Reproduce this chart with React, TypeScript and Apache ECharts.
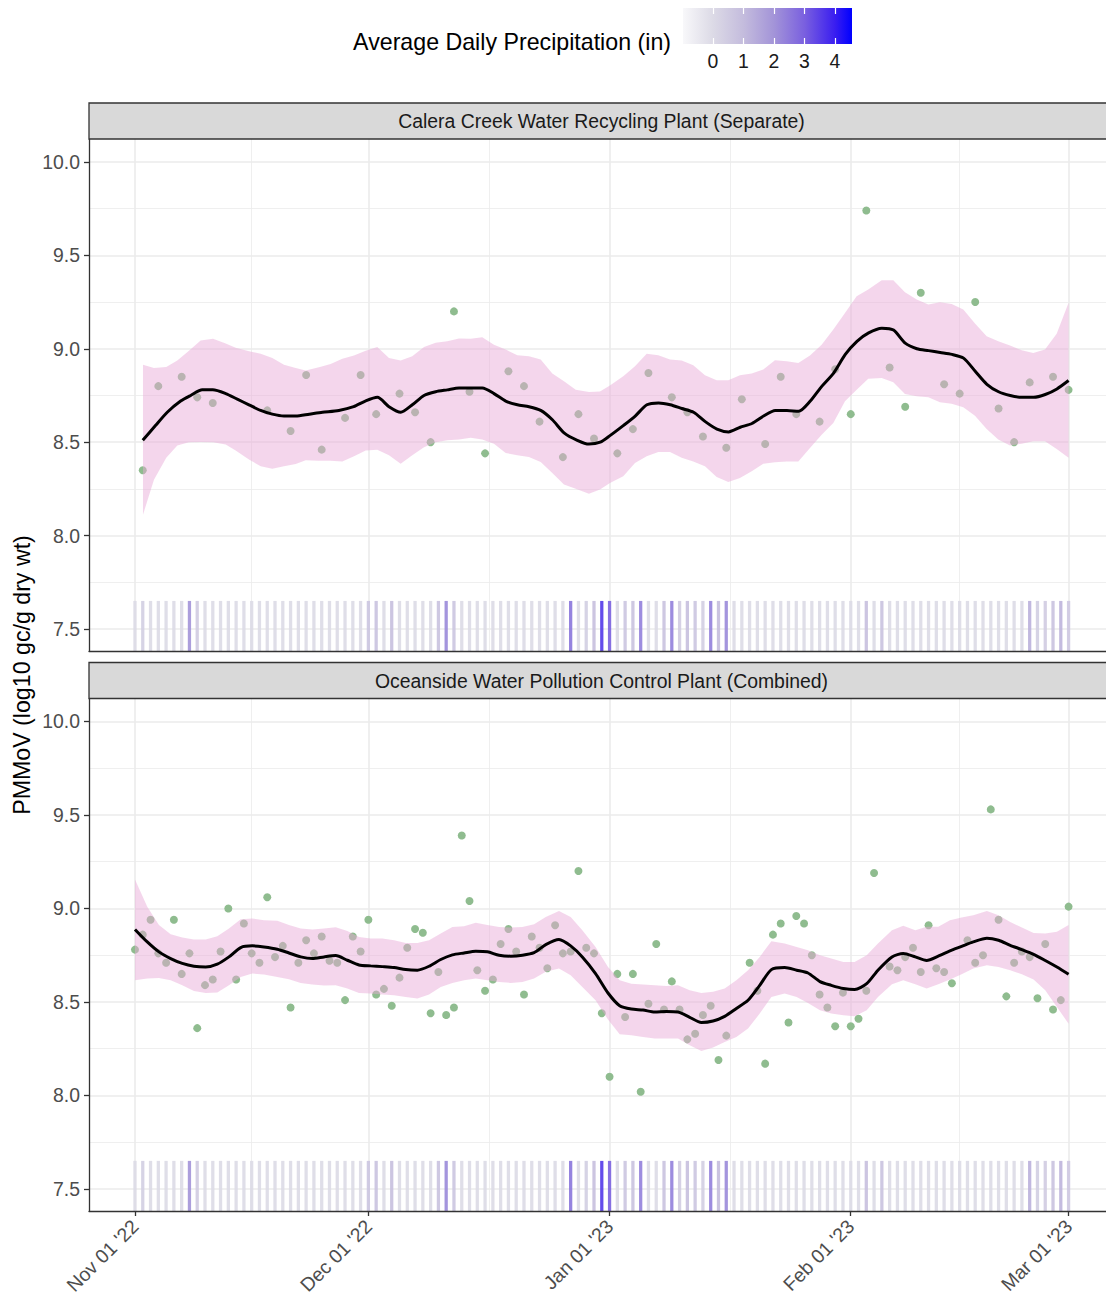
import React, { useEffect, useRef } from "react";
import * as echarts from "echarts";

// ---------------- DATA ----------------
// x values are days since Nov 01 2022
const START_DATE_UTC = Date.UTC(2022, 10, 1);
const X_TICK_DAYS = [0, 30, 61, 92, 120];
const X_MINOR_DAYS = [15, 45.5, 76.5, 106];
const Y_TICKS = [7.5, 8.0, 8.5, 9.0, 9.5, 10.0];
const Y_MINOR = [7.75, 8.25, 8.75, 9.25, 9.75];
const LEGEND_TICKS = [0, 1, 2, 3, 4];

const PANEL_TITLES = [
  "Calera Creek Water Recycling Plant (Separate)",
  "Oceanside Water Pollution Control Plant (Combined)",
];

// Calera Creek measurements
const CALERA_DAYS = [1, 3, 6, 8, 10, 17, 20, 22, 24, 27, 29, 31, 34, 36, 38, 41, 43, 45, 48, 50, 52, 55, 57, 59, 62, 64, 66, 69, 71, 73, 76, 78, 81, 83, 85, 88, 90, 92, 94, 97, 99, 101, 104, 106, 108, 111, 113, 115, 118, 120];
const CALERA_VALS = [8.35, 8.80, 8.85, 8.74, 8.71, 8.67, 8.56, 8.86, 8.46, 8.63, 8.86, 8.65, 8.76, 8.66, 8.50, 9.20, 8.77, 8.44, 8.88, 8.80, 8.61, 8.42, 8.65, 8.52, 8.44, 8.57, 8.87, 8.74, 8.66, 8.53, 8.47, 8.73, 8.49, 8.85, 8.65, 8.61, 8.89, 8.65, 9.74, 8.90, 8.69, 9.30, 8.81, 8.76, 9.25, 8.68, 8.50, 8.82, 8.85, 8.78];

// Calera Creek smooth fit
const CALERA_FIT_DAYS = [1, 2.66, 4.15, 5.87, 7.16, 8.65, 10, 11.66, 13.15, 14.65, 16.15, 17.65, 19.15, 20.66, 22.4, 24.1, 26.2, 28.1, 29.6, 31.15, 32.65, 34.15, 35.65, 37.15, 38.65, 40.15, 41.65, 43.15, 44.65, 46.15, 47.65, 49.15, 50.65, 52.15, 53.65, 55.15, 56.85, 58.35, 59.8, 61.05, 62.8, 64.3, 65.8, 67.3, 68.8, 70.3, 71.8, 73.3, 74.8, 76.3, 77.8, 79.3, 80.8, 82.3, 83.8, 85.3, 86.8, 88.3, 89.8, 91.3, 92.8, 94.3, 96, 97.5, 99, 100.5, 102, 103.5, 105, 106.5, 108, 109.5, 111, 112.5, 114, 115.5, 117, 118.5, 120];
const CALERA_FIT = [8.51, 8.59, 8.66, 8.72, 8.75, 8.78, 8.78, 8.76, 8.73, 8.70, 8.67, 8.65, 8.64, 8.64, 8.65, 8.66, 8.67, 8.69, 8.72, 8.74, 8.69, 8.66, 8.70, 8.75, 8.77, 8.78, 8.79, 8.79, 8.79, 8.76, 8.72, 8.70, 8.69, 8.67, 8.62, 8.55, 8.51, 8.49, 8.50, 8.535, 8.59, 8.64, 8.70, 8.71, 8.70, 8.68, 8.66, 8.61, 8.57, 8.555, 8.58, 8.60, 8.64, 8.67, 8.67, 8.665, 8.72, 8.80, 8.87, 8.97, 9.04, 9.085, 9.11, 9.10, 9.03, 9.00, 8.99, 8.98, 8.97, 8.95, 8.88, 8.81, 8.77, 8.75, 8.74, 8.74, 8.755, 8.785, 8.83];
const CALERA_BAND_DAYS = [1.03, 2.44, 4.02, 5.44, 6.94, 8.44, 10.03, 11.66, 12.94, 14.65, 16.16, 17.65, 19.15, 20.66, 21.94, 23.65, 25.15, 26.65, 28.15, 29.65, 31.14, 32.65, 34.15, 35.64, 37.15, 38.65, 40.14, 41.65, 43.15, 44.64, 46.14, 47.65, 49.14, 50.64, 52.15, 53.64, 55.14, 56.65, 58.35, 59.77, 61.05, 62.76, 64.27, 65.77, 67.26, 68.77, 70.27, 71.76, 73.26, 74.77, 76.26, 77.76, 79.27, 80.76, 82.26, 83.77, 85.26, 86.76, 88.26, 89.76, 91.26, 92.76, 94.25, 95.98, 97.47, 98.97, 100.48, 101.97, 103.47, 104.97, 106.47, 107.97, 109.47, 110.96, 112.47, 113.97, 115.46, 116.97, 118.47, 120];
const CALERA_UPPER = [8.915, 8.897, 8.903, 8.937, 8.99, 9.044, 9.053, 9.028, 9.005, 8.987, 8.973, 8.951, 8.915, 8.897, 8.883, 8.901, 8.919, 8.946, 8.964, 8.99, 9.01, 8.951, 8.937, 8.96, 9.01, 9.032, 9.04, 9.055, 9.053, 9.062, 9.022, 8.996, 8.965, 8.96, 8.942, 8.867, 8.826, 8.781, 8.769, 8.771, 8.803, 8.853, 8.906, 8.974, 8.965, 8.942, 8.937, 8.912, 8.858, 8.831, 8.831, 8.858, 8.867, 8.889, 8.938, 8.933, 8.924, 8.964, 9.022, 9.103, 9.192, 9.281, 9.317, 9.367, 9.367, 9.303, 9.264, 9.237, 9.249, 9.24, 9.21, 9.135, 9.067, 9.04, 9.017, 8.992, 8.978, 8.996, 9.081, 9.246];
const CALERA_LOWER = [8.112, 8.299, 8.416, 8.482, 8.499, 8.501, 8.499, 8.487, 8.456, 8.407, 8.371, 8.358, 8.371, 8.383, 8.403, 8.401, 8.401, 8.397, 8.424, 8.455, 8.459, 8.43, 8.385, 8.43, 8.473, 8.499, 8.51, 8.514, 8.523, 8.514, 8.492, 8.442, 8.43, 8.421, 8.394, 8.335, 8.273, 8.25, 8.224, 8.246, 8.282, 8.317, 8.389, 8.424, 8.448, 8.448, 8.416, 8.397, 8.371, 8.314, 8.287, 8.308, 8.344, 8.385, 8.392, 8.396, 8.397, 8.469, 8.54, 8.603, 8.719, 8.781, 8.839, 8.844, 8.821, 8.758, 8.746, 8.74, 8.714, 8.705, 8.687, 8.642, 8.571, 8.514, 8.482, 8.492, 8.505, 8.505, 8.464, 8.416];

// Oceanside measurements
const OCEANSIDE_DAYS = [0, 1, 2, 3, 4, 5, 6, 7, 8, 9, 10, 11, 12, 13, 14, 15, 16, 17, 18, 19, 20, 21, 22, 23, 24, 25, 26, 27, 28, 29, 30, 31, 32, 33, 34, 35, 36, 37, 38, 39, 40, 41, 42, 43, 44, 45, 46, 47, 48, 49, 50, 51, 52, 53, 54, 55, 56, 57, 58, 59, 60, 61, 62, 63, 64, 65, 66, 67, 68, 69, 70, 71, 72, 73, 74, 75, 76, 79, 80, 81, 82, 83, 84, 85, 86, 87, 88, 89, 90, 91, 92, 93, 94, 95, 97, 98, 99, 100, 101, 102, 103, 104, 105, 107, 108, 109, 110, 111, 112, 113, 114, 115, 116, 117, 118, 119, 120];
const OCEANSIDE_VALS = [
  8.78, 8.86, 8.94, 8.76, 8.71, 8.94, 8.65, 8.76, 8.36, 8.59,
  8.62, 8.77, 9.00, 8.62, 8.92, 8.76, 8.71, 9.06, 8.74, 8.80,
  8.47, 8.71, 8.83, 8.76, 8.85, 8.72, 8.71, 8.51, 8.85, 8.77,
  8.94, 8.54, 8.57, 8.48, 8.63, 8.79, 8.89, 8.87, 8.44, 8.66,
  8.43, 8.47, 9.39, 9.04, 8.67, 8.56, 8.62, 8.81, 8.89, 8.77,
  8.54, 8.85, 8.79, 8.68, 8.91, 8.76, 8.77, 9.20, 8.79, 8.76,
  8.44, 8.10, 8.65, 8.42, 8.65, 8.02, 8.49, 8.81, 8.46, 8.61,
  8.46, 8.30, 8.33, 8.43, 8.48, 8.19, 8.32,
  8.71, 8.56, 8.17, 8.86, 8.92, 8.39, 8.96, 8.92, 8.75, 8.54,
  8.47, 8.37, 8.55, 8.37, 8.41, 8.56, 9.19,
  8.69, 8.67, 8.74, 8.79, 8.66, 8.91, 8.68, 8.66, 8.60,
  8.83, 8.71, 8.75, 9.53, 8.94, 8.53, 8.71, 8.77, 8.74, 8.52, 8.81, 8.46, 8.51, 9.01,
];

// Oceanside smooth fit and band
const OCEANSIDE_FIT_DAYS = [0, 1.58, 3.08, 4.59, 6.08, 7.58, 9.09, 10.58, 12.08, 13.59, 15.08, 16.58, 18.29, 19.79, 21.3, 22.8, 24.3, 25.8, 27.3, 28.79, 30.3, 31.8, 33.3, 34.8, 36.3, 37.8, 39.3, 40.8, 42.3, 43.8, 45.3, 46.8, 48.3, 49.8, 51.3, 52.8, 54.5, 56.0, 57.5, 59.2, 60.8, 62.3, 63.8, 65.3, 66.8, 68.3, 69.8, 71.3, 72.8, 74.3, 75.8, 77.3, 78.8, 80.3, 81.8, 83.5, 85.05, 86.5, 88.05, 89.5, 91.05, 92.5, 94.05, 95.5, 97.3, 98.75, 100.3, 101.75, 103.25, 104.75, 106.25, 107.75, 109.5, 111, 112.5, 114, 115.5, 117, 118.5, 120];
const OCEANSIDE_FIT = [8.888, 8.821, 8.768, 8.732, 8.706, 8.691, 8.687, 8.702, 8.741, 8.791, 8.80, 8.794, 8.782, 8.762, 8.741, 8.732, 8.741, 8.748, 8.723, 8.698, 8.693, 8.689, 8.684, 8.673, 8.67, 8.691, 8.727, 8.752, 8.762, 8.771, 8.768, 8.75, 8.745, 8.75, 8.764, 8.807, 8.834, 8.80, 8.741, 8.652, 8.548, 8.48, 8.462, 8.457, 8.446, 8.449, 8.446, 8.418, 8.39, 8.398, 8.423, 8.465, 8.509, 8.589, 8.673, 8.684, 8.67, 8.655, 8.609, 8.589, 8.572, 8.566, 8.598, 8.67, 8.741, 8.759, 8.741, 8.722, 8.745, 8.773, 8.797, 8.821, 8.841, 8.83, 8.803, 8.78, 8.755, 8.722, 8.687, 8.648];
const OCEANSIDE_UPPER = [9.155, 9.009, 8.911, 8.862, 8.845, 8.834, 8.834, 8.852, 8.893, 8.943, 8.946, 8.937, 8.934, 8.911, 8.893, 8.888, 8.893, 8.90, 8.88, 8.848, 8.839, 8.839, 8.83, 8.816, 8.816, 8.83, 8.866, 8.901, 8.905, 8.923, 8.911, 8.901, 8.898, 8.901, 8.916, 8.955, 8.987, 8.955, 8.884, 8.794, 8.687, 8.616, 8.598, 8.593, 8.589, 8.586, 8.589, 8.563, 8.548, 8.554, 8.572, 8.616, 8.67, 8.741, 8.825, 8.813, 8.794, 8.777, 8.75, 8.732, 8.714, 8.714, 8.75, 8.813, 8.884, 8.907, 8.884, 8.902, 8.902, 8.937, 8.952, 8.964, 8.986, 8.964, 8.928, 8.898, 8.869, 8.866, 8.875, 8.911];
const OCEANSIDE_LOWER = [8.616, 8.625, 8.628, 8.616, 8.589, 8.559, 8.548, 8.55, 8.589, 8.634, 8.652, 8.647, 8.634, 8.622, 8.602, 8.593, 8.588, 8.589, 8.572, 8.548, 8.545, 8.54, 8.536, 8.527, 8.518, 8.54, 8.58, 8.602, 8.616, 8.625, 8.616, 8.607, 8.602, 8.607, 8.625, 8.661, 8.679, 8.643, 8.58, 8.509, 8.406, 8.327, 8.322, 8.313, 8.304, 8.304, 8.304, 8.268, 8.238, 8.256, 8.286, 8.313, 8.358, 8.438, 8.527, 8.545, 8.527, 8.495, 8.456, 8.438, 8.429, 8.423, 8.456, 8.527, 8.595, 8.616, 8.595, 8.572, 8.595, 8.62, 8.648, 8.679, 8.696, 8.687, 8.67, 8.648, 8.62, 8.563, 8.473, 8.384];

// Average daily precipitation (in), days 0..120
const PRECIP_DAYS = Array.from({ length: 121 }, (_, i) => i);
const PRECIP = [
  0, 0.4, 0, 0, 0, 0, 0, 2.0, 0.5, 0,
  0, 0, 0, 0, 0, 0, 0, 0, 0, 0,
  0, 0, 0, 0, 0, 0, 0, 0, 0, 0,
  0.7, 0.8, 0, 0.9, 0, 0, 0, 0, 0, 0.8,
  2.2, 0.7, 0, 0, 0, 0, 0, 0, 0, 0,
  0, 0, 0, 0, 0, 0, 2.6, 0, 0.4, 0.9,
  3.6, 3.0, 0, 0.7, 0.8, 2.4, 0, 0, 0.8, 2.4,
  0.5, 0.9, 0.7, 0.4, 2.4, 1.0, 2.2, 0, 0, 0,
  0, 0, 0, 0, 0, 0, 0, 0, 0, 0,
  0, 0, 0, 0, 0.9, 0, 0.8, 0, 0, 0,
  0, 0, 0, 0, 0, 0, 0, 0, 0, 0,
  0, 0, 0, 0, 0, 1.3, 0.4, 0.5, 0.8, 1.2,
  0.6,
];

// ---------------- SCALES / STYLE ----------------
const X_MIN = -5.91;
const X_MAX = 124.81;
const Y_MIN = 7.382;
const Y_MAX = 10.123;
const TILE_TOP = 7.65;
const TILE_WIDTH = 0.42;
const PRECIP_MIN = -0.98;
const PRECIP_MAX = 4.56;

const COLOR_STOPS: [number, string][] = [
  [-0.98, "#F8F8FA"],
  [0, "#DCDAE6"],
  [1, "#C4BCDD"],
  [2, "#A394D8"],
  [3, "#7A60DF"],
  [4, "#3A1EF0"],
  [4.56, "#0000FF"],
];

const FONT = "'Liberation Sans', Arial, Helvetica, sans-serif";
const AXIS_TEXT = "#4D4D4D";
const BORDER = "#333333";
const GRID_COLOR = "#EBEBEB";
const POINT_COLOR = "#8FBC8F";
const RIBBON_FILL = "rgba(231,170,216,0.48)";

const GRID_LEFT = 89;
const GRID_WIDTH = 1017;
const STRIP_WIDTH = 1030;
const STRIP_TEXT_X = 601.5;
const PANELS = [
  { top: 139, height: 512, stripTop: 103, stripHeight: 36 },
  { top: 698.5, height: 512.5, stripTop: 662.5, stripHeight: 36 },
];

const MONTHS = ["Jan", "Feb", "Mar", "Apr", "May", "Jun", "Jul", "Aug", "Sep", "Oct", "Nov", "Dec"];
function dayLabel(d: number): string {
  const dt = new Date(START_DATE_UTC + Math.round(d) * 86400000);
  const dd = String(dt.getUTCDate()).padStart(2, "0");
  const yy = String(dt.getUTCFullYear()).slice(2);
  return `${MONTHS[dt.getUTCMonth()]} ${dd} '${yy}`;
}

function hexToRgb(h: string): number[] {
  const n = parseInt(h.slice(1), 16);
  return [(n >> 16) & 255, (n >> 8) & 255, n & 255];
}
function colorAt(v: number): string {
  for (let i = 0; i < COLOR_STOPS.length - 1; i++) {
    const [v0, c0] = COLOR_STOPS[i];
    const [v1, c1] = COLOR_STOPS[i + 1];
    if (v <= v1 || i === COLOR_STOPS.length - 2) {
      const t = Math.max(0, Math.min(1, (v - v0) / (v1 - v0)));
      const a = hexToRgb(c0);
      const b = hexToRgb(c1);
      const m = a.map((x, k) => Math.round(x + (b[k] - x) * t));
      return `rgb(${m[0]},${m[1]},${m[2]})`;
    }
  }
  return COLOR_STOPS[COLOR_STOPS.length - 1][1];
}
const VM_STEPS = 57;
const VM_COLORS = Array.from({ length: VM_STEPS }, (_, i) =>
  colorAt(PRECIP_MIN + ((PRECIP_MAX - PRECIP_MIN) * i) / (VM_STEPS - 1))
);

function zip(a: number[], b: number[]): number[][] {
  return a.map((x, i) => [x, b[i]]);
}

function buildPanelSeries(p: number, pts: number[][], fit: number[][], upper: number[][], lower: number[][]) {
  const gridLines: any[] = [];
  X_TICK_DAYS.forEach((d) => gridLines.push({ xAxis: d, lineStyle: { color: GRID_COLOR, width: 1.6, type: "solid" } }));
  X_MINOR_DAYS.forEach((d) => gridLines.push({ xAxis: d, lineStyle: { color: GRID_COLOR, width: 0.8, type: "solid" } }));
  Y_TICKS.forEach((v) => gridLines.push({ yAxis: v, lineStyle: { color: GRID_COLOR, width: 1.6, type: "solid" } }));
  Y_MINOR.forEach((v) => gridLines.push({ yAxis: v, lineStyle: { color: GRID_COLOR, width: 0.8, type: "solid" } }));

  return [
    {
      type: "line",
      xAxisIndex: p,
      yAxisIndex: p,
      data: [],
      z: 1,
      silent: true,
      markLine: {
        silent: true,
        z: 1,
        symbol: ["none", "none"],
        label: { show: false },
        emphasis: { disabled: true },
        animation: false,
        data: gridLines,
      },
    },
    {
      type: "custom",
      xAxisIndex: p,
      yAxisIndex: p,
      z: 6,
      silent: true,
      clip: true,
      data: zip(PRECIP_DAYS, PRECIP),
      encode: { x: 0, y: 1 },
      renderItem: (params: any, api: any) => {
        const d = api.value(0);
        const p1 = api.coord([d - TILE_WIDTH / 2, TILE_TOP]);
        const p2 = api.coord([d + TILE_WIDTH / 2, Y_MIN]);
        return {
          type: "rect",
          shape: { x: p1[0], y: p1[1], width: p2[0] - p1[0], height: p2[1] - p1[1] },
          style: { fill: api.visual("color"), opacity: 0.9 },
        };
      },
    },
    {
      type: "scatter",
      xAxisIndex: p,
      yAxisIndex: p,
      z: 7,
      silent: true,
      symbol: "circle",
      symbolSize: 8,
      itemStyle: { color: POINT_COLOR, opacity: 1 },
      data: pts,
    },
    {
      type: "custom",
      xAxisIndex: p,
      yAxisIndex: p,
      z: 8,
      silent: true,
      clip: true,
      data: [upper[0]],
      renderItem: (params: any, api: any) => {
        if (params.dataIndex !== 0) return null;
        const top = upper.map((q) => api.coord(q));
        const bot = lower.slice().reverse().map((q) => api.coord(q));
        return {
          type: "polygon",
          shape: { points: top.concat(bot) },
          style: { fill: RIBBON_FILL, stroke: "none" },
        };
      },
    },
    {
      type: "line",
      xAxisIndex: p,
      yAxisIndex: p,
      z: 9,
      silent: true,
      showSymbol: false,
      smooth: 0.25,
      lineStyle: { color: "#000000", width: 3 },
      data: fit,
    },
  ];
}

function buildOption(): any {
  const grids = [
    { left: GRID_LEFT, top: PANELS[0].top, width: GRID_WIDTH, height: PANELS[0].height, containLabel: false },
    { left: GRID_LEFT, top: PANELS[1].top, width: GRID_WIDTH, height: PANELS[1].height, containLabel: false },
    { left: 683, top: 8, width: 169, height: 36, containLabel: false },
  ];

  const panelX = (p: number) => ({
    gridIndex: p,
    type: "value",
    min: X_MIN,
    max: X_MAX,
    z: 10,
    axisLine: { show: true, onZero: false, lineStyle: { color: BORDER, width: 1.3 } },
    axisTick:
      p === 1
        ? { show: true, customValues: X_TICK_DAYS, length: 5, lineStyle: { color: BORDER, width: 1.3 } }
        : { show: false },
    axisLabel:
      p === 1
        ? {
            show: true,
            customValues: X_TICK_DAYS,
            formatter: (v: number) => dayLabel(v),
            rotate: 45,
            color: AXIS_TEXT,
            fontSize: 19.4,
            fontFamily: FONT,
            margin: 12,
          }
        : { show: false },
    splitLine: { show: false },
  });

  const panelY = (p: number) => ({
    gridIndex: p,
    type: "value",
    min: Y_MIN,
    max: Y_MAX,
    z: 10,
    axisLine: { show: true, onZero: false, lineStyle: { color: BORDER, width: 1.3 } },
    axisTick: { show: true, customValues: Y_TICKS, length: 5, lineStyle: { color: BORDER, width: 1.3 } },
    axisLabel: {
      show: true,
      customValues: Y_TICKS,
      formatter: (v: number) => v.toFixed(1),
      color: AXIS_TEXT,
      fontSize: 19.4,
      fontFamily: FONT,
      margin: 9,
    },
    splitLine: { show: false },
  });

  const legendX = (pos: string) => ({
    gridIndex: 2,
    type: "value",
    position: pos,
    min: PRECIP_MIN,
    max: PRECIP_MAX,
    z: 10,
    axisLine: { show: false },
    axisTick: { show: true, inside: true, customValues: LEGEND_TICKS, length: 6, lineStyle: { color: "#FFFFFF", width: 1.2 } },
    axisLabel:
      pos === "bottom"
        ? { show: true, customValues: LEGEND_TICKS, color: "#1A1A1A", fontSize: 19.4, fontFamily: FONT, margin: 7 }
        : { show: false },
    splitLine: { show: false },
  });

  const series = [
    ...buildPanelSeries(
      0,
      zip(CALERA_DAYS, CALERA_VALS),
      zip(CALERA_FIT_DAYS, CALERA_FIT),
      zip(CALERA_BAND_DAYS, CALERA_UPPER),
      zip(CALERA_BAND_DAYS, CALERA_LOWER)
    ),
    ...buildPanelSeries(
      1,
      zip(OCEANSIDE_DAYS, OCEANSIDE_VALS),
      zip(OCEANSIDE_FIT_DAYS, OCEANSIDE_FIT),
      zip(OCEANSIDE_FIT_DAYS, OCEANSIDE_UPPER),
      zip(OCEANSIDE_FIT_DAYS, OCEANSIDE_LOWER)
    ),
  ];

  const gradient = new echarts.graphic.LinearGradient(
    0,
    0,
    1,
    0,
    COLOR_STOPS.map(([v, c]) => ({ offset: (v - PRECIP_MIN) / (PRECIP_MAX - PRECIP_MIN), color: c }))
  );

  const graphic: any[] = [
    {
      type: "rect",
      z: 1,
      silent: true,
      shape: { x: 683, y: 8, width: 169, height: 36 },
      style: { fill: gradient },
    },
    {
      type: "text",
      z: 20,
      silent: true,
      x: 671,
      y: 42,
      style: {
        text: "Average Daily Precipitation (in)",
        fill: "#000000",
        fontSize: 23.2,
        fontFamily: FONT,
        align: "right",
        verticalAlign: "middle",
      },
    },
    {
      type: "text",
      z: 20,
      silent: true,
      x: 22,
      y: (PANELS[0].top + PANELS[1].top + PANELS[1].height) / 2,
      rotation: Math.PI / 2,
      style: {
        text: "PMMoV (log10 gc/g dry wt)",
        fill: "#000000",
        fontSize: 23.2,
        fontFamily: FONT,
        align: "center",
        verticalAlign: "middle",
      },
    },
  ];
  PANELS.forEach((pn, i) => {
    graphic.push({
      type: "rect",
      z: 20,
      silent: true,
      shape: { x: GRID_LEFT, y: pn.stripTop, width: STRIP_WIDTH, height: pn.stripHeight },
      style: { fill: "#D9D9D9", stroke: BORDER, lineWidth: 1.3 },
    });
    graphic.push({
      type: "text",
      z: 21,
      silent: true,
      x: STRIP_TEXT_X,
      y: pn.stripTop + pn.stripHeight / 2,
      style: {
        text: PANEL_TITLES[i],
        fill: "#1A1A1A",
        fontSize: 19.4,
        fontFamily: FONT,
        align: "center",
        verticalAlign: "middle",
      },
    });
  });

  return {
    animation: false,
    backgroundColor: "#FFFFFF",
    textStyle: { fontFamily: FONT },
    grid: grids,
    xAxis: [panelX(0), panelX(1), legendX("bottom"), legendX("top")],
    yAxis: [panelY(0), panelY(1), { gridIndex: 2, type: "value", min: 0, max: 1, show: false }],
    visualMap: {
      type: "continuous",
      show: false,
      min: PRECIP_MIN,
      max: PRECIP_MAX,
      dimension: 1,
      seriesIndex: [1, 6],
      inRange: { color: VM_COLORS },
    },
    series,
    graphic,
  };
}

export default function App() {
  const ref = useRef<HTMLDivElement>(null);
  useEffect(() => {
    if (!ref.current) return;
    const chart = echarts.init(ref.current, null, { renderer: "svg" });
    chart.setOption(buildOption());
    return () => {
      chart.dispose();
    };
  }, []);
  return (
    <div
      ref={ref}
      style={{ position: "absolute", left: 0, top: 0, width: 1106, height: 1298, background: "#FFFFFF" }}
    />
  );
}
